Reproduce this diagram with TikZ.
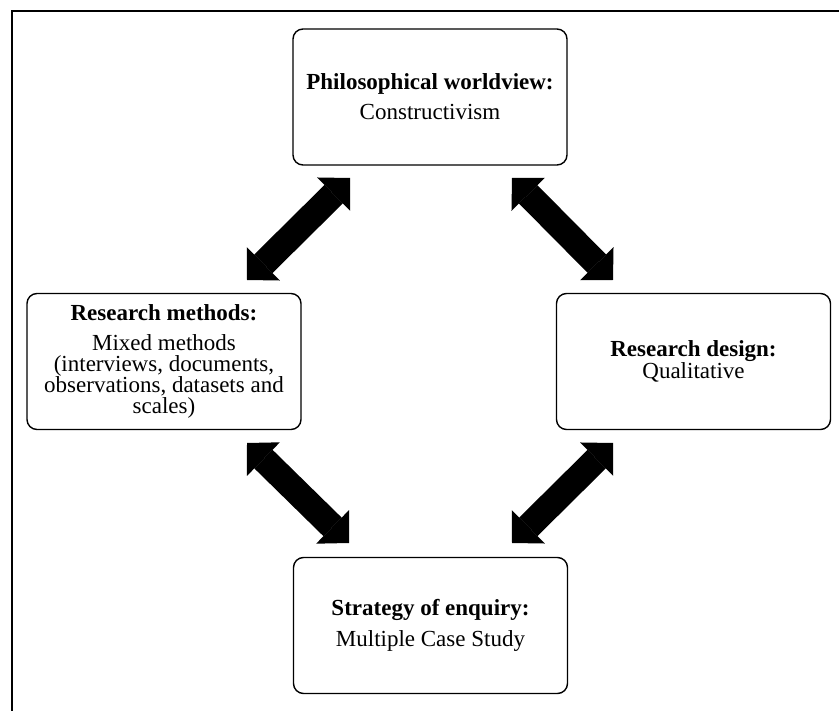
\documentclass[tikz,border=0pt]{standalone}
\usepackage{fontspec}
\setmainfont{Liberation Serif}
\usetikzlibrary{arrows.meta}
\begin{document}
\begin{tikzpicture}[x=1pt,y=-1pt,
  stage/.style={draw=black, line width=1.4pt, rounded corners=10pt,
    minimum width=274pt, minimum height=136pt, align=center, inner sep=0pt,
    font=\fontsize{23}{21}\selectfont},
  blockarrow/.style={fill=black, line width=26pt,
    {Triangle[length=23pt,width=47pt,line width=0pt]}-{Triangle[length=23pt,width=47pt,line width=0pt]}},
  frameline/.style={line width=1.8pt}]
\useasboundingbox (0,0) rectangle (839,711);
% outer frame (top and left edges)
\draw[frameline] (12,711) -- (12,11) -- (839,11);

% the four stages
\node[stage] (world) at (430,97)
  {\textbf{Philosophical worldview:}\\[9pt]Constructivism};
\node[stage] (methods) at (164,361.5)
  {\textbf{Research methods:}\\[9pt]Mixed methods\\(interviews, documents,\\observations, datasets and\\scales)};
\node[stage] (design) at (693.5,361.5)
  {\textbf{Research design:}\\Qualitative};
\node[stage] (strategy) at (430.5,625.5)
  {\textbf{Strategy of enquiry:}\\[9pt]Multiple Case Study};

% arrow tips between the stages
\coordinate (wm) at (350,178);
\coordinate (mw) at (247,280);
\coordinate (wd) at (512,178);
\coordinate (dw) at (613,280);
\coordinate (ms) at (247,443);
\coordinate (sm) at (349,543);
\coordinate (ds) at (613,443);
\coordinate (sd) at (512,543);

\draw[blockarrow] (mw) -- (wm);
\draw[blockarrow] (wd) -- (dw);
\draw[blockarrow] (ms) -- (sm);
\draw[blockarrow] (ds) -- (sd);
\end{tikzpicture}
\end{document}
